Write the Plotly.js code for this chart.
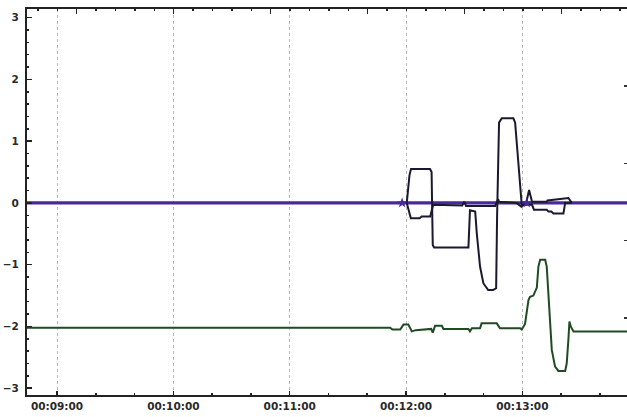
<!DOCTYPE html>
<html>
<head>
<meta charset="utf-8">
<script src="https://cdn.plot.ly/plotly-3.0.1.min.js"></script>
<style>html,body{margin:0;padding:0;background:#fff;}#chart{width:627px;height:417px;}</style>
</head>
<body>
<div id="chart"></div>
<script>
// ---- data (times are hh:mm:ss of the recording) ----
const purpleT = ["00:08:44.5", "00:13:54"];
const purpleV = [0.0, 0.0];

const markT = ["00:11:58", "00:13:02.3"];
const markV = [0.0, 0.0];

const line1T = ["00:12:00.4","00:12:01.8","00:12:02.6","00:12:12.4","00:12:13.2","00:12:13.8","00:12:14.5","00:12:32.2",
  "00:12:33","00:12:35.7","00:12:36.5","00:12:38.2","00:12:39.9","00:12:42.4","00:12:44.9","00:12:46.5","00:12:47",
  "00:12:48","00:12:49.4","00:12:55.4","00:12:56.3","00:12:57.3","00:12:58.5","00:12:59.7","00:13:05","00:13:06",
  "00:13:12.6","00:13:13.5","00:13:15","00:13:16","00:13:21.2","00:13:22.1","00:13:23.8","00:13:25.5"];
const line1V = [0.0, 0.45, 0.55, 0.55, 0.5, -0.68, -0.72, -0.72,
  -0.12, -0.14, -0.49, -1.03, -1.3, -1.41, -1.41, -1.38, -0.2,
  1.3, 1.37, 1.37, 1.3, 0.9, 0.3, -0.03, -0.03, -0.11,
  -0.11, -0.14, -0.14, -0.17, -0.17, 0.0, 0.0, 0.0];

const line2T = ["00:12:00.4","00:12:02.5","00:12:07","00:12:08","00:12:12.5","00:12:13.6","00:12:14","00:12:29",
  "00:12:30","00:12:31","00:12:46","00:12:47.5","00:12:48","00:12:57","00:12:59.5","00:13:02","00:13:03.5",
  "00:13:05","00:13:12.6","00:13:13","00:13:23.8","00:13:25.5"];
const line2V = [0.0, -0.25, -0.25, -0.22, -0.22, -0.1, -0.03, -0.04,
  0.02, -0.05, -0.05, 0.06, 0.02, 0.0, -0.06, 0.0, 0.21,
  0.02, 0.02, 0.04, 0.08, 0.0];

const greenT = ["00:08:44.5","00:11:51.8","00:11:53","00:11:57","00:11:58.7","00:12:01.2","00:12:03","00:12:05",
  "00:12:13","00:12:13.8","00:12:15","00:12:18.5","00:12:19.3","00:12:32.2","00:12:33","00:12:34","00:12:38.2",
  "00:12:39","00:12:46.8","00:12:48.5","00:12:58.9","00:12:59.7","00:13:01.4","00:13:03.2","00:13:04","00:13:05.7",
  "00:13:07.5","00:13:08.3","00:13:09.2","00:13:11.8","00:13:12.6","00:13:13.5","00:13:14.3","00:13:15.2",
  "00:13:16.9","00:13:18.6","00:13:22.1","00:13:22.9","00:13:23.8","00:13:24.3","00:13:25","00:13:26.4","00:13:54"];
const greenV = [-2.02, -2.02, -2.05, -2.05, -1.97, -1.97, -2.08, -2.06,
  -2.04, -2.1, -1.99, -1.99, -2.04, -2.04, -2.08, -2.03, -2.03,
  -1.95, -1.95, -2.03, -2.03, -2.05, -1.96, -1.57, -1.52, -1.5,
  -1.37, -1.03, -0.92, -0.92, -1.03, -1.57, -2.05, -2.38,
  -2.65, -2.72, -2.72, -2.6, -2.2, -1.92, -2.0, -2.08, -2.08];

const xRange = ["00:08:44.5", "00:13:54"];
const yRange = [-3.11, 3.14];

// ---- helpers ----
const D = t => "2000-01-01 " + t;
const tickFont = {family: "DejaVu Sans", size: 10.5, color: "#2a2a2a", weight: "bold"};

const traces = [
  {x: purpleT.map(D), y: purpleV, mode: "lines", line: {color: "#48289a", width: 3.2}, hoverinfo: "skip"},
  {x: line2T.map(D), y: line2V, mode: "lines", line: {color: "#1a1930", width: 2}, hoverinfo: "skip"},
  {x: line1T.map(D), y: line1V, mode: "lines", line: {color: "#1a1930", width: 2}, hoverinfo: "skip"},
  {x: greenT.map(D), y: greenV, mode: "lines", line: {color: "#1f4a22", width: 2}, hoverinfo: "skip"},
  {x: markT.map(D), y: markV, mode: "markers", marker: {symbol: "star", size: 8, color: "#48289a"}, hoverinfo: "skip"},
  {x: [], y: [], xaxis: "x2", yaxis: "y2", mode: "lines", hoverinfo: "skip"}
];

const layout = {
  width: 627, height: 417,
  margin: {l: 27, r: 0, t: 9, b: 22, pad: 0},
  paper_bgcolor: "#ffffff", plot_bgcolor: "#ffffff",
  showlegend: false,
  xaxis: {
    type: "date", range: xRange.map(D),
    tick0: D("00:09:00"), dtick: 60000, tickformat: "%H:%M:%S",
    ticks: "inside", ticklen: 4, tickwidth: 1.5, tickcolor: "#222",
    showline: true, linecolor: "#222", linewidth: 2,
    showgrid: true, gridcolor: "#b8b8b8", gridwidth: 1, griddash: "dot",
    zeroline: false, tickfont: tickFont,
    minor: {dtick: 20000, ticks: "inside", ticklen: 2, tickcolor: "#222", showgrid: false}
  },
  yaxis: {
    range: yRange, dtick: 1, tick0: 0,
    ticks: "inside", ticklen: 5, tickwidth: 1.5, tickcolor: "#222",
    showline: true, linecolor: "#222", linewidth: 2,
    showgrid: false, zeroline: false, tickfont: tickFont,
    ticklabelstandoff: 4,
    minor: {dtick: 0.2, ticks: "inside", ticklen: 2, tickcolor: "#222", showgrid: false}
  },
  xaxis2: {
    overlaying: "x", side: "top", range: [-0.512, 5.673], dtick: 1, tick0: 0,
    ticks: "inside", ticklen: 5, tickwidth: 1.5, tickcolor: "#222",
    showline: true, linecolor: "#222", linewidth: 2,
    showgrid: false, zeroline: false, showticklabels: false,
    minor: {dtick: 0.2, ticks: "inside", ticklen: 2, tickcolor: "#222", showgrid: false}
  },
  yaxis2: {
    overlaying: "y", side: "right", range: [0, 5], tickvals: [1, 2, 3, 4],
    ticks: "inside", ticklen: 3, tickwidth: 1.5, tickcolor: "#333",
    showline: false, showgrid: false, zeroline: false, showticklabels: false
  }
};

Plotly.newPlot("chart", traces, layout, {staticPlot: true, displayModeBar: false});
</script>
</body>
</html>
